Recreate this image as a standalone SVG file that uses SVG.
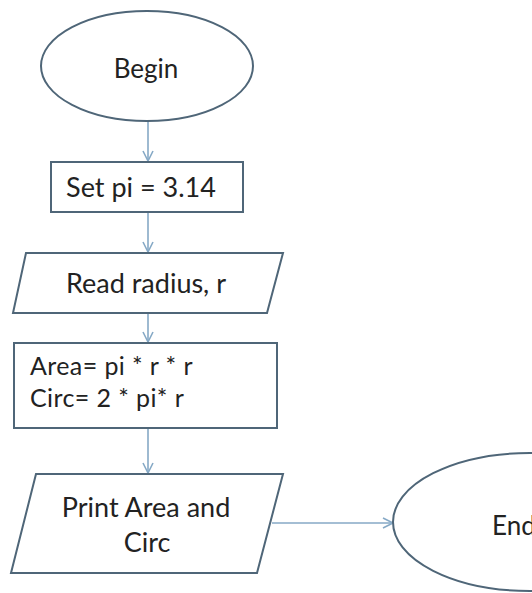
<svg xmlns="http://www.w3.org/2000/svg" width="532" height="593" viewBox="0 0 532 593">
<defs>
<style>
.shape{fill:#ffffff;stroke:#4f6678;stroke-width:2}
.conn{fill:none;stroke:#86a9c6;stroke-width:1.6}
text{font-family:Lato,"Open Sans","Liberation Sans",sans-serif;fill:#222;}
.c{text-anchor:middle}
</style>
<marker id="arr" markerWidth="14" markerHeight="14" refX="11" refY="6" orient="auto" markerUnits="userSpaceOnUse">
<polyline points="1,1 11,6 1,11" fill="none" stroke="#86a9c6" stroke-width="1.6"/>
</marker>
</defs>
<rect width="532" height="593" fill="#ffffff"/>
<g id="connectors">
<line class="conn" x1="148" y1="122" x2="148" y2="161" marker-end="url(#arr)"/>
<line class="conn" x1="148" y1="212" x2="148" y2="252" marker-end="url(#arr)"/>
<line class="conn" x1="148" y1="313" x2="148" y2="342" marker-end="url(#arr)"/>
<line class="conn" x1="148" y1="428" x2="148" y2="473" marker-end="url(#arr)"/>
<line class="conn" x1="272" y1="523" x2="393" y2="523" marker-end="url(#arr)"/>
</g>
<g id="begin">
<ellipse class="shape" cx="147" cy="66" rx="106" ry="55"/>
<text class="c" x="146" y="78" font-size="26">Begin</text>
</g>
<g id="setpi">
<rect class="shape" x="51" y="162" width="192" height="50"/>
<text class="c" x="141" y="197" font-size="27">Set pi = 3.14</text>
</g>
<g id="read">
<polygon class="shape" points="26,253 283,253 267,313 13,313"/>
<text class="c" x="146" y="293" font-size="27">Read radius, r</text>
</g>
<g id="compute">
<rect class="shape" x="14" y="343" width="263" height="85"/>
<text x="30" y="375" font-size="25" letter-spacing="0.4">Area= pi * r * r</text>
<text x="30" y="407" font-size="25" letter-spacing="0.4">Circ= 2 * pi* r</text>
</g>
<g id="print">
<polygon class="shape" points="36,474 283,474 257,573 11,573"/>
<text class="c" x="146" y="517" font-size="27">Print Area and</text>
<text class="c" x="147" y="552" font-size="27">Circ</text>
</g>
<g id="end">
<ellipse class="shape" cx="530" cy="522" rx="137" ry="69"/>
<text x="492" y="535" font-size="26">End</text>
</g>
</svg>
